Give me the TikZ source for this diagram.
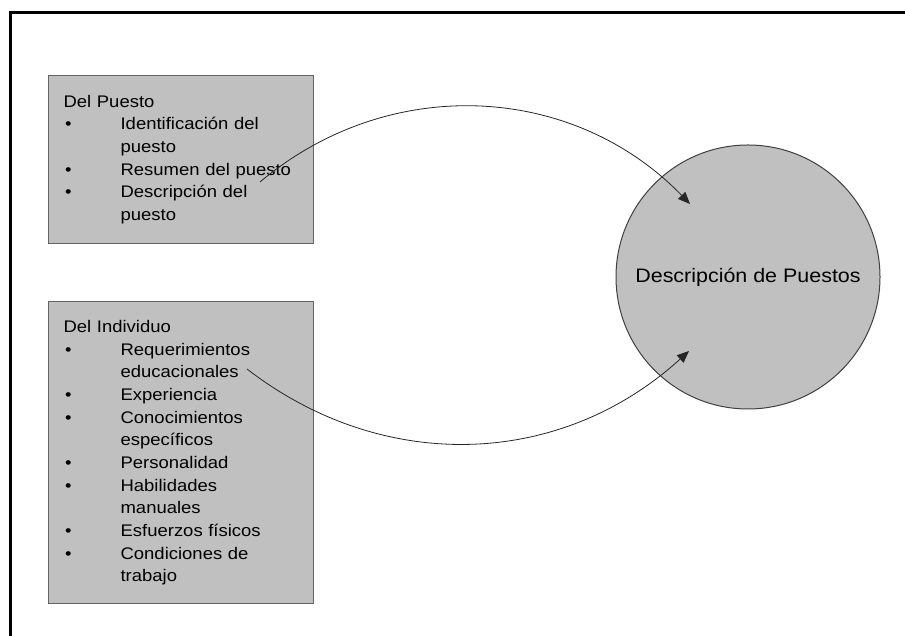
\documentclass[tikz,border=0pt]{standalone}
\usepackage{fontspec}
\setmainfont{Liberation Sans}[FakeStretch=1.1]
\usetikzlibrary{shapes, arrows.meta, positioning}

\definecolor{cajagris}{RGB}{192,192,192}
\definecolor{bordegris}{RGB}{100,100,100}

\newcommand{\vineta}[1]{\makebox[57pt][l]{\hspace{1.5pt}\textbullet}#1}
\newcommand{\sigue}[1]{\hspace*{57pt}#1}

\begin{document}
\begin{tikzpicture}[
			x=1pt, y=1pt,
			>={Triangle[length=12pt,width=10pt]},
			caja/.style={draw=bordegris, line width=1.2pt, fill=cajagris, rectangle, minimum width=265pt, minimum height=168pt, text width=235pt, inner xsep=15pt, align=left, font=\fontsize{16.8pt}{22.65pt}\selectfont},
			circulo/.style={draw=black!75, line width=1pt, fill=cajagris, circle, minimum size=264pt, inner sep=0pt, font=\fontsize{19.5pt}{23pt}\selectfont},
			flecha/.style={->, line width=0.8pt, draw=black!85}
			]
			\useasboundingbox (0,0) rectangle (905,636);
			
			% --- Marco ---
			\coordinate (marcoAbajo) at (10,0);
			\coordinate (marcoEsquina) at (10,623.5);
			\coordinate (marcoDerecha) at (905,623.5);
			\draw[line width=3pt] (marcoAbajo) -- (marcoEsquina) -- (marcoDerecha);
			
			% --- Cajas y circulo ---
			\node[caja, anchor=north west] (puesto) at (48,561) {Del Puesto\\
				\vineta{Identificación del}\\
				\sigue{puesto}\\
				\vineta{Resumen del puesto}\\
				\vineta{Descripción del}\\
				\sigue{puesto}}; % Datos del puesto
			\node[caja, below=57pt of puesto, minimum height=302pt] (individuo) {Del Individuo\\
				\vineta{Requerimientos}\\
				\sigue{educacionales}\\
				\vineta{Experiencia}\\
				\vineta{Conocimientos}\\
				\sigue{específicos}\\
				\vineta{Personalidad}\\
				\vineta{Habilidades}\\
				\sigue{manuales}\\
				\vineta{Esfuerzos físicos}\\
				\vineta{Condiciones de}\\
				\sigue{trabajo}}; % Datos del individuo
			\node[circulo] (desc) at (748,359) {Descripción de Puestos}; % Resultado
			
			% --- Flechas ---
			\coordinate (inicioA) at (260,454);
			\coordinate (puntaA) at (690,432);
			\coordinate (inicioB) at (247,267);
			\coordinate (puntaB) at (689,285);
			\draw[flecha] (inicioA) to[bend left=43] (puntaA);
			\draw[flecha] (inicioB) to[bend right=40] (puntaB);
			
		\end{tikzpicture}
\end{document}
